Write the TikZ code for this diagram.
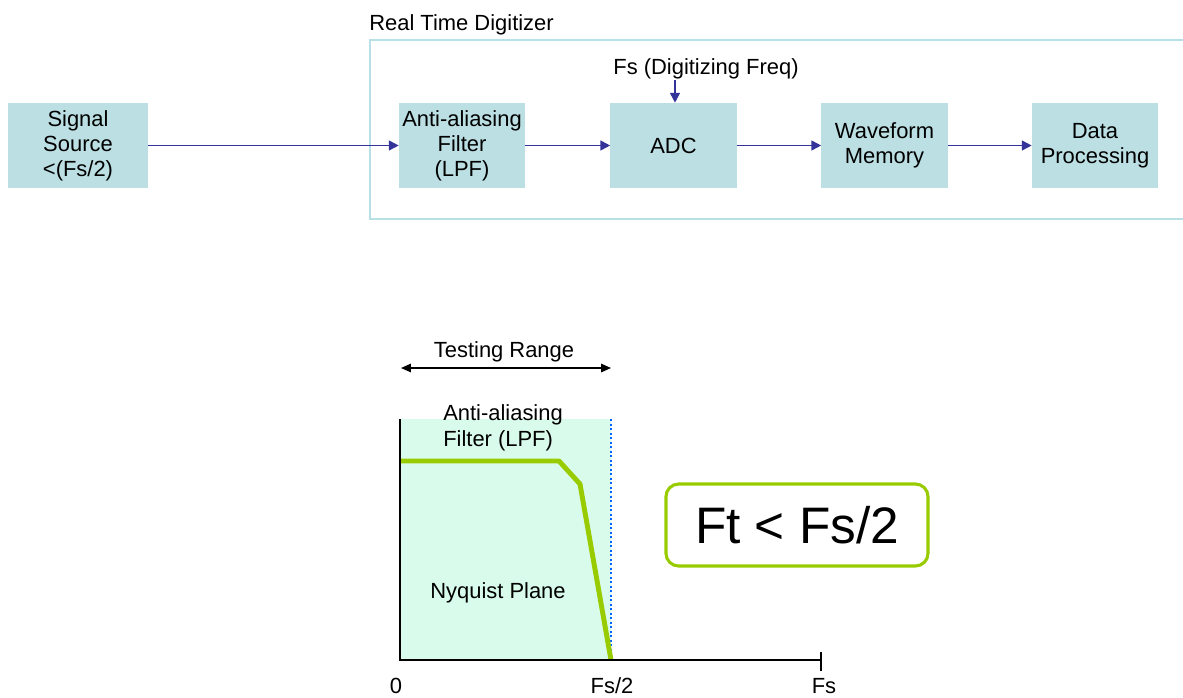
\documentclass[tikz,border=0pt]{standalone}
\usepackage{fontspec}
\setmainfont{Liberation Sans}
\usetikzlibrary{arrows.meta}
\definecolor{boxfill}{HTML}{BBDFE3}
\definecolor{framecol}{HTML}{B7E1E6}
\definecolor{arrcol}{HTML}{333399}
\definecolor{mint}{HTML}{D9FBEB}
\definecolor{lgreen}{HTML}{99CC00}
\definecolor{dotblue}{HTML}{0066FF}
\tikzset{
  blk/.style={fill=boxfill, draw=none, minimum height=2.125cm, minimum width=3.15cm, inner sep=0pt, align=center, font=\fontsize{15.6}{17.7}\selectfont},
  arr/.style={draw=arrcol, line width=1.2pt, -{Triangle[length=7pt,width=7pt]}},
  lbl/.style={font=\fontsize{15.6}{17.7}\selectfont, inner sep=0pt},
}
\begin{document}
\begin{tikzpicture}[x=0.025cm,y=-0.025cm]
\useasboundingbox (0,0) rectangle (1183,697);
% frame
\draw[framecol, line width=1pt] (1190,40) -- (370,40) -- (370,219) -- (1190,219);
\node[lbl, anchor=base west] (rtd) at (369,30) {Real Time Digitizer};
% blocks
\node[blk, minimum width=3.5cm] (src) at (78,145.5) {Signal\\Source\\<(Fs/2)};
\node[blk] (flt) at (462,145.5) {Anti-aliasing\\Filter\\(LPF)};
\node[blk] (adc) at (673.5,145.5) {ADC};
\node[blk] (wfm) at (884.5,145.5) {Waveform\\Memory};
\node[blk] (dat) at (1095,145.5) {Data\\Processing};
\draw[arr] (src) -- (flt);
\draw[arr] (flt) -- (adc);
\draw[arr] (adc) -- (wfm);
\draw[arr] (wfm) -- (dat);
\node[lbl, anchor=base] (fs) at (706,74) {Fs (Digitizing Freq)};
\coordinate (fsin) at (675,80);
\draw[arr] (fsin) -- (fsin |- adc.north);
% bottom chart
\fill[mint] (400,419) rectangle (611,660);
\coordinate (orig) at (400,660);
\coordinate (ytop) at (400,419);
\coordinate (xend) at (821,660);
\coordinate (half) at (611,660);
\coordinate (halftop) at (611,419);
\draw[dotblue, line width=1.8pt, dash pattern=on 1.6pt off 1.6pt] (halftop) -- (half);
\draw[lgreen, line width=3.5pt, line join=round] (401,461) -- (559,461) -- (580,484) -- (half);
\draw[black, line width=2pt] (ytop) -- (orig) -- (xend);
\coordinate (tickt) at (821,652);
\coordinate (tickb) at (821,671);
\draw[black, line width=1.3pt] (tickt) -- (tickb);
\coordinate (trl) at (401,368);
\coordinate (trr) at (611,368);
\draw[black, line width=1pt, {Triangle[length=7pt,width=6pt]}-{Triangle[length=7pt,width=6pt]}] (trl) -- (trr);
\node[lbl, anchor=base] (tr) at (504,357) {Testing Range};
\node[lbl, anchor=base west, align=left] (aaf) at (443,420) {Anti-aliasing};
\node[lbl, anchor=base west] (aaf2) at (443,446) {Filter (LPF)};
\node[lbl, anchor=base] (nyq) at (498,598) {Nyquist Plane};
\node[lbl, anchor=base] (l0) at (396,693) {0};
\node[lbl, anchor=base] (lh) at (612,693) {Fs/2};
\node[lbl, anchor=base] (lf) at (824,693) {Fs};
\node[draw=lgreen, line width=2.2pt, rounded corners=9pt, minimum width=6.55cm, minimum height=2.05cm, font=\fontsize{36.5}{40}\selectfont, inner sep=0pt] (ft) at (797,525) {Ft < Fs/2};
\end{tikzpicture}
\end{document}
